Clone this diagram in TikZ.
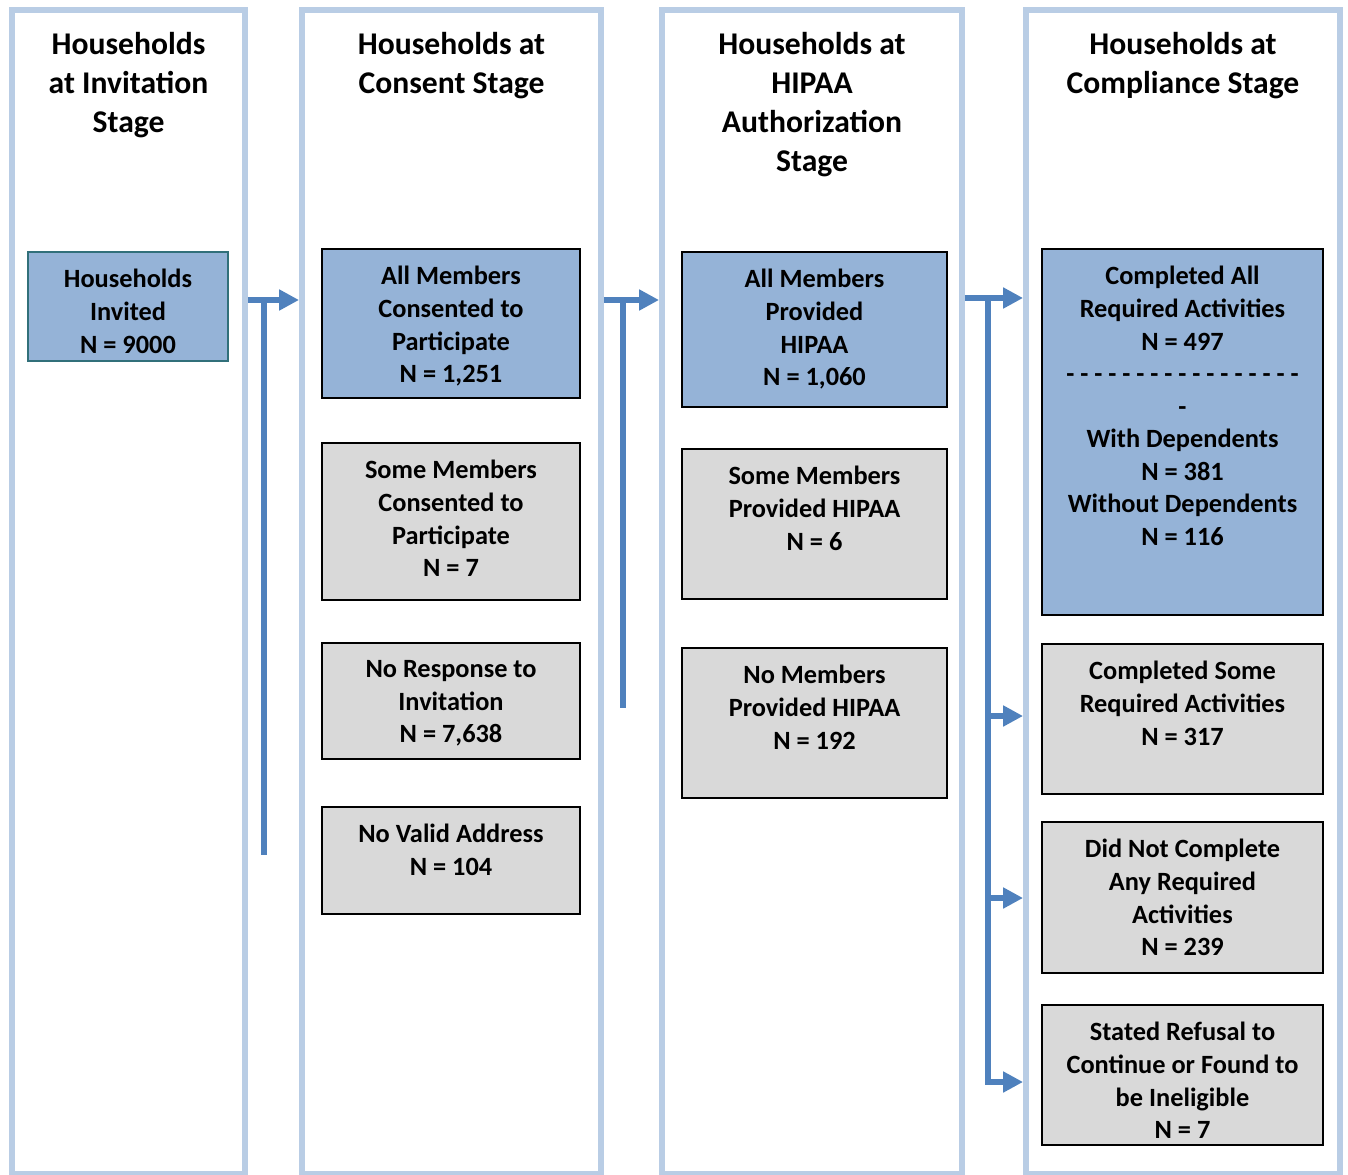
\documentclass[tikz,border=0pt]{standalone}
\usepackage{fontspec}
\setmainfont{Carlito}
\usepackage{tikz}
\usetikzlibrary{arrows.meta,positioning}
\definecolor{colline}{HTML}{B9CDE5}
\definecolor{boxblue}{HTML}{95B3D7}
\definecolor{boxgrey}{HTML}{D9D9D9}
\definecolor{flowblue}{HTML}{4F81BD}
\definecolor{tealedge}{HTML}{31707A}
\tikzset{>={Triangle[length=11.3pt,width=11.3pt]}}
\tikzset{
  stagecol/.style={draw=colline, line width=3.4pt, inner sep=0pt, minimum height=23.28cm},
  stagetitle/.style={align=center, inner sep=0pt, font=\fontsize{18}{22.1}\selectfont\bfseries},
  bluebox/.style={draw=black, line width=1pt, fill=boxblue, inner sep=0pt, anchor=north},
  greybox/.style={draw=black, line width=1pt, fill=boxgrey, inner sep=0pt, anchor=north},
  boxtext/.style={align=center, inner sep=0pt, font=\fontsize{15}{18.55}\selectfont\bfseries},
  flow/.style={draw=flowblue, line width=3.4pt}
}
\begin{document}
\begin{tikzpicture}[x=0.02cm, y=-0.02cm]
\useasboundingbox (0,0) rectangle (1348,1175);

% stage columns
\node[stagecol, minimum width=4.66cm] (col1) at (128.5,592) {};
\node[stagecol, minimum width=5.98cm] (col2) at (451.5,592) {};
\node[stagecol, minimum width=6.00cm] (col3) at (812,592) {};
\node[stagecol, minimum width=6.28cm] (col4) at (1183,592) {};

\node[stagetitle, below=0.5cm of col1.north] (title1) {Households\\at Invitation\\Stage};
\node[stagetitle, below=0.5cm of col2.north] (title2) {Households at\\Consent Stage};
\node[stagetitle, below=0.5cm of col3.north] (title3) {Households at\\HIPAA\\Authorization\\Stage};
\node[stagetitle, below=0.5cm of col4.north] (title4) {Households at\\Compliance Stage};

% invitation
\node[bluebox, draw=tealedge, minimum width=4cm, minimum height=2.18cm] (inv) at (128,251) {};
\node[boxtext, below=0.36cm of inv.north] (inv-txt) {Households\\Invited\\N = 9000};

% consent
\node[bluebox, minimum width=5.16cm, minimum height=2.98cm] (cons-all) at (451,248) {};
\node[boxtext, below=0.36cm of cons-all.north] (cons-all-txt) {All Members\\Consented to\\Participate\\N = 1,251};
\node[greybox, minimum width=5.16cm, minimum height=3.14cm] (cons-some) at (451,442) {};
\node[boxtext, below=0.36cm of cons-some.north] (cons-some-txt) {Some Members\\Consented to\\Participate\\N = 7};
\node[greybox, minimum width=5.16cm, minimum height=2.32cm] (cons-none) at (451,642) {};
\node[boxtext, below=0.36cm of cons-none.north] (cons-none-txt) {No Response to\\Invitation\\N = 7,638};
\node[greybox, minimum width=5.16cm, minimum height=2.14cm] (cons-addr) at (451,806) {};
\node[boxtext, below=0.36cm of cons-addr.north] (cons-addr-txt) {No Valid Address\\N = 104};

% hipaa
\node[bluebox, minimum width=5.3cm, minimum height=3.1cm] (hip-all) at (814.5,251) {};
\node[boxtext, below=0.36cm of hip-all.north] (hip-all-txt) {All Members\\Provided\\HIPAA\\N = 1,060};
\node[greybox, minimum width=5.3cm, minimum height=3.0cm] (hip-some) at (814.5,448) {};
\node[boxtext, below=0.36cm of hip-some.north] (hip-some-txt) {Some Members\\Provided HIPAA\\N = 6};
\node[greybox, minimum width=5.3cm, minimum height=3.0cm] (hip-none) at (814.5,647) {};
\node[boxtext, below=0.36cm of hip-none.north] (hip-none-txt) {No Members\\Provided HIPAA\\N = 192};

% compliance
\node[bluebox, minimum width=5.62cm, minimum height=7.32cm] (comp-all) at (1182.5,248) {};
\node[boxtext, below=0.36cm of comp-all.north] (comp-all-txt) {Completed All\\Required Activities\\N = 497\\- - - - - - - - - - - - - - - - -\\-\\With Dependents\\N = 381\\Without Dependents\\N = 116};
\node[greybox, minimum width=5.62cm, minimum height=3.0cm] (comp-some) at (1182.5,643) {};
\node[boxtext, below=0.36cm of comp-some.north] (comp-some-txt) {Completed Some\\Required Activities\\N = 317};
\node[greybox, minimum width=5.62cm, minimum height=3.02cm] (comp-none) at (1182.5,821) {};
\node[boxtext, below=0.36cm of comp-none.north] (comp-none-txt) {Did Not Complete\\Any Required\\Activities\\N = 239};
\node[greybox, minimum width=5.62cm, minimum height=2.8cm] (comp-out) at (1182.5,1004) {};
\node[boxtext, below=0.36cm of comp-out.north] (comp-out-txt) {Stated Refusal to\\Continue or Found to\\be Ineligible\\N = 7};

% flow arrows
\coordinate (f1) at (264,300);
\coordinate (f1-end) at (264,855);
\draw[flow] (f1) -- (f1-end);
\draw[flow, ->] (col1.east |- f1) -- (col2.west |- f1);

\coordinate (f2) at (623,300);
\coordinate (f2-end) at (623,708);
\draw[flow] (f2) -- (f2-end);
\draw[flow, ->] (col2.east |- f2) -- (col3.west |- f2);

\coordinate (f3) at (988,298);
\coordinate (f3-a) at (988,716);
\coordinate (f3-b) at (988,898);
\coordinate (f3-c) at (988,1082);
\draw[flow, ->] (col3.east |- f3) -- (col4.west |- f3);
\draw[flow, ->] (f3) -- (f3-c) -- (col4.west |- f3-c);
\draw[flow, ->] (f3-a) -- (col4.west |- f3-a);
\draw[flow, ->] (f3-b) -- (col4.west |- f3-b);
\end{tikzpicture}
\end{document}
